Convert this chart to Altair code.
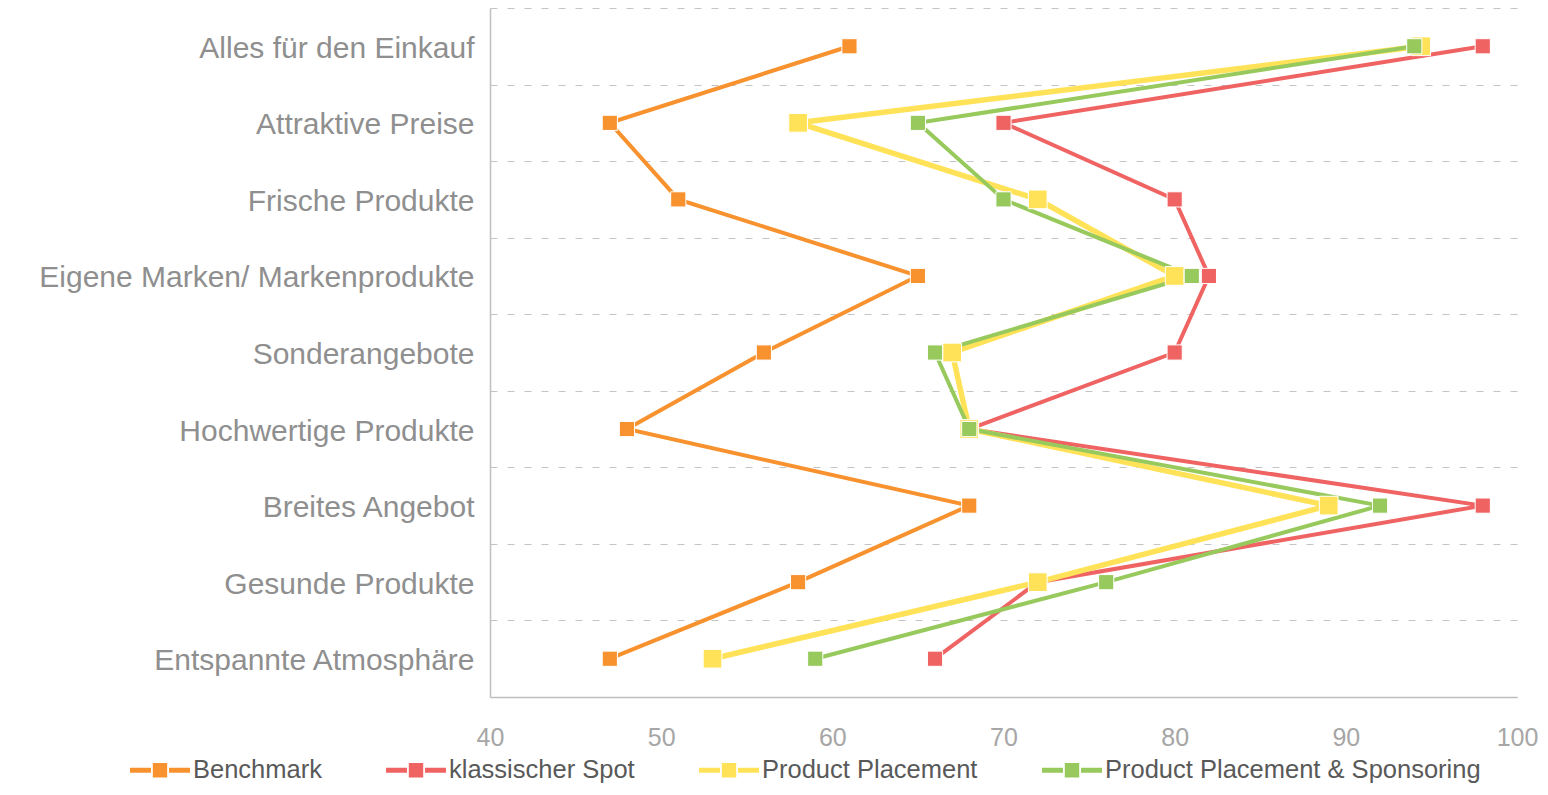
import altair as alt
import pandas as pd

categories = [
    "Alles für den Einkauf",
    "Attraktive Preise",
    "Frische Produkte",
    "Eigene Marken/ Markenprodukte",
    "Sonderangebote",
    "Hochwertige Produkte",
    "Breites Angebot",
    "Gesunde Produkte",
    "Entspannte Atmosphäre",
]
series = ["Benchmark", "klassischer Spot", "Product Placement", "Product Placement & Sponsoring"]
benchmark = [61, 47, 51, 65, 56, 48, 68, 58, 47]
klassischer_spot = [98, 70, 80, 82, 80, 68, 98, 72, 66]
product_placement = [94.4, 58, 72, 80, 67, 68, 89, 72, 53]
pp_sponsoring = [94, 65, 70, 81, 66, 68, 92, 76, 59]
x_ticks = [40, 50, 60, 70, 80, 90, 100]

colors = ["#F7922F", "#EF6363", "#FFE257", "#97C95C"]

rows = []
for s, vals in zip(series, [benchmark, klassischer_spot, product_placement, pp_sponsoring]):
    for i, (c, v) in enumerate(zip(categories, vals)):
        rows.append({"series": s, "cat": c, "value": v, "idx": i})
df = pd.DataFrame(rows)

legend_path = (
    "M-1,-0.085H-0.3V0.085H-1Z "
    "M-0.24,-0.24H0.24V0.24H-0.24Z "
    "M0.3,-0.085H1V0.085H0.3Z"
)

color_enc = alt.Color(
    "series:N",
    sort=series,
    scale=alt.Scale(domain=series, range=colors),
    legend=alt.Legend(
        title=None,
        orient="none",
        direction="horizontal",
        legendX=-360,
        legendY=732,
        symbolType=legend_path,
        symbolSize=3600,
        symbolStrokeWidth=0,
        symbolOpacity=1,
        labelFont="Liberation Sans",
        labelFontSize=25.5,
        labelColor="#595959",
        labelOffset=3,
        columnPadding=64,
        labelLimit=600,
        padding=0,
    ),
)

x_enc = alt.X(
    "value:Q",
    scale=alt.Scale(domain=[40, 100], nice=False, zero=False),
    axis=alt.Axis(
        title=None,
        values=x_ticks,
        grid=False,
        ticks=False,
        tickSize=0,
        labelFlush=False,
        labelFont="Liberation Sans",
        labelFontSize=25,
        labelColor="#A6A6A6",
        labelPadding=28,
        domainColor="#BFBFBF",
        domainWidth=1.5,
    ),
)

y_enc = alt.Y(
    "cat:N",
    sort=categories,
    scale=alt.Scale(type="band", domain=categories, paddingInner=0, paddingOuter=0),
    bandPosition=0.5,
    axis=alt.Axis(
        title=None,
        grid=True,
        tickBand="extent",
        gridDash=[7, 10],
        gridColor="#C4C4C4",
        gridWidth=1.2,
        ticks=False,
        tickSize=0,
        labelFont="Liberation Sans",
        labelFontSize=30,
        labelColor="#8F8F8F",
        labelPadding=16,
        labelOffset=2,
        labelLimit=600,
        domainColor="#BFBFBF",
        domainWidth=1.5,
    ),
)

base = alt.Chart(df)


def line_layer(names, width):
    return (
        base.transform_filter(alt.FieldOneOfPredicate(field="series", oneOf=names))
        .mark_line(strokeWidth=width)
        .encode(x=x_enc, y=y_enc, color=color_enc, order=alt.Order("idx:Q"))
    )


def point_layer(names, size):
    return (
        base.transform_filter(alt.FieldOneOfPredicate(field="series", oneOf=names))
        .mark_point(filled=True, shape="square", size=size, stroke="white", strokeWidth=1, opacity=1)
        .encode(x=x_enc, y=y_enc, color=color_enc)
    )


chart = (
    alt.layer(
        line_layer(series[:2], 4),
        line_layer([series[2]], 5.5),
        line_layer([series[3]], 4),
        point_layer(series[:2], 230),
        point_layer([series[2]], 350),
        point_layer([series[3]], 230),
    )
    .properties(
        width=1027,
        height=689,
        autosize=alt.AutoSizeParams(type="none"),
        padding={"left": 482, "top": 0, "right": 22, "bottom": 90},
    )
    .configure_view(stroke=None)
)

chart.save("out.html", embed_options={"renderer": "svg", "actions": False})
